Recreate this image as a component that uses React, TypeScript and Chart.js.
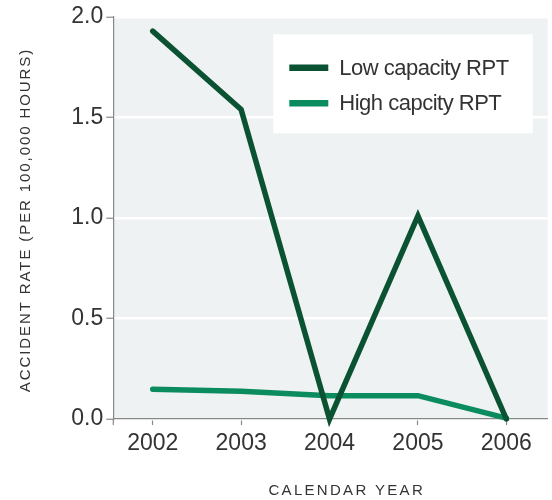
import React, { useEffect, useRef } from "react";
import { Chart, registerables } from "chart.js";

Chart.register(...registerables);

const years = [2002, 2003, 2004, 2005, 2006];
const lowCapacity = [1.93, 1.54, 0.0, 1.01, 0.0];
const highCapacity = [0.148, 0.138, 0.116, 0.116, 0.004];
const yTicks = [0, 0.5, 1.0, 1.5, 2.0];
const seriesNames = ["Low capacity RPT", "High capcity RPT"];
const seriesColors = ["#0b5233", "#0a8c5f"];
const xTitle = "CALENDAR YEAR";
const yTitle = "ACCIDENT RATE (PER 100,000 HOURS)";

const FONT = "'Liberation Sans', Arial, sans-serif";
const TEXT = "#333333";

const decorPlugin = {
  id: "decor",
  beforeDraw(chart: any) {
    const { ctx, chartArea } = chart;
    ctx.save();
    ctx.fillStyle = "#eef2f3";
    ctx.fillRect(chartArea.left, chartArea.top, chartArea.right - chartArea.left, chartArea.bottom - chartArea.top);
    ctx.restore();
  },
  afterDraw(chart: any) {
    const { ctx, chartArea } = chart;
    ctx.save();
    // small extension of the y axis below the x axis
    ctx.strokeStyle = "#888";
    ctx.lineWidth = 1.2;
    ctx.beginPath();
    ctx.moveTo(chartArea.left, chartArea.bottom);
    ctx.lineTo(chartArea.left, chartArea.bottom + 6);
    ctx.stroke();

    // legend box
    ctx.fillStyle = "#ffffff";
    ctx.fillRect(273.3, 34.3, 259.4, 99);
    const rows = [67.7, 103.3];
    chart.data.datasets.forEach((ds: any, i: number) => {
      ctx.strokeStyle = ds.borderColor;
      ctx.lineWidth = 6.5;
      ctx.lineCap = "butt";
      ctx.beginPath();
      ctx.moveTo(289.3, rows[i]);
      ctx.lineTo(328.3, rows[i]);
      ctx.stroke();
      ctx.fillStyle = TEXT;
      ctx.font = `22px ${FONT}`;
      (ctx as any).letterSpacing = "-0.5px";
      ctx.textAlign = "left";
      ctx.textBaseline = "middle";
      ctx.fillText(ds.label, 339.3, rows[i] + 0.8);
    });

    // axis titles
    ctx.fillStyle = TEXT;
    ctx.font = `15px ${FONT}`;
    (ctx as any).letterSpacing = "2.3px";
    ctx.textAlign = "center";
    ctx.textBaseline = "middle";
    ctx.fillText(xTitle, 345.6 + 1.15, 491);

    ctx.translate(26, 221);
    ctx.rotate(-Math.PI / 2);
    (ctx as any).letterSpacing = "1.9px";
    ctx.fillText(yTitle, 0.95, 0);
    ctx.restore();
  },
};

export default function App() {
  const ref = useRef<HTMLCanvasElement | null>(null);

  useEffect(() => {
    if (!ref.current) return;
    Chart.defaults.font.family = FONT;
    const chart = new Chart(ref.current, {
      type: "line",
      data: {
        datasets: [
          {
            label: seriesNames[0],
            data: years.map((x, i) => ({ x, y: lowCapacity[i] })),
            borderColor: seriesColors[0],
            backgroundColor: seriesColors[0],
            borderWidth: 5.5,
            pointRadius: 0,
            tension: 0,
            borderCapStyle: "round",
            borderJoinStyle: "miter",
            clip: false as any,
          },
          {
            label: seriesNames[1],
            data: years.map((x, i) => ({ x, y: highCapacity[i] })),
            borderColor: seriesColors[1],
            backgroundColor: seriesColors[1],
            borderWidth: 5.5,
            pointRadius: 0,
            tension: 0,
            borderCapStyle: "round",
            borderJoinStyle: "miter",
            clip: false as any,
          },
        ],
      },
      options: {
        responsive: false,
        animation: false,
        layout: { padding: { top: 17, right: 4.3, left: 0, bottom: 0 } },
        plugins: { legend: { display: false }, tooltip: { enabled: false } },
        scales: {
          x: {
            type: "linear",
            min: 2001.554,
            max: 2006.468,
            afterFit: (s: any) => {
              s.height = 81;
            },
            afterBuildTicks: (s: any) => {
              s.ticks = years.map((v) => ({ value: v }));
            },
            ticks: {
              font: { size: 23 },
              color: TEXT,
              padding: 5,
              callback: (v: any) => String(v),
              maxRotation: 0,
              autoSkip: false,
            },
            grid: {
              drawOnChartArea: false,
              drawTicks: true,
              tickLength: 6,
              tickColor: "#888",
              tickWidth: 1.2,
            },
            border: { display: true, color: "#888", width: 1.2 },
          },
          y: {
            min: 0,
            max: 2,
            afterFit: (s: any) => {
              s.width = 113.3;
            },
            afterBuildTicks: (s: any) => {
              s.ticks = yTicks.map((v) => ({ value: v }));
            },
            ticks: {
              font: { size: 23 },
              color: TEXT,
              padding: 3,
              callback: (v: any) => Number(v).toFixed(1),
            },
            grid: {
              color: "#ffffff",
              lineWidth: 2.5,
              drawTicks: true,
              tickLength: 7,
              tickColor: "#888",
              tickWidth: 1.2,
            },
            border: { display: true, color: "#888", width: 1.2 },
          },
        },
      },
      plugins: [decorPlugin],
    });
    return () => chart.destroy();
  }, []);

  return (
    <div style={{ position: "fixed", left: 0, top: 0, width: 552, height: 500, background: "#fff" }}>
      <canvas ref={ref} width={552} height={500} style={{ width: 552, height: 500, display: "block" }} />
    </div>
  );
}
